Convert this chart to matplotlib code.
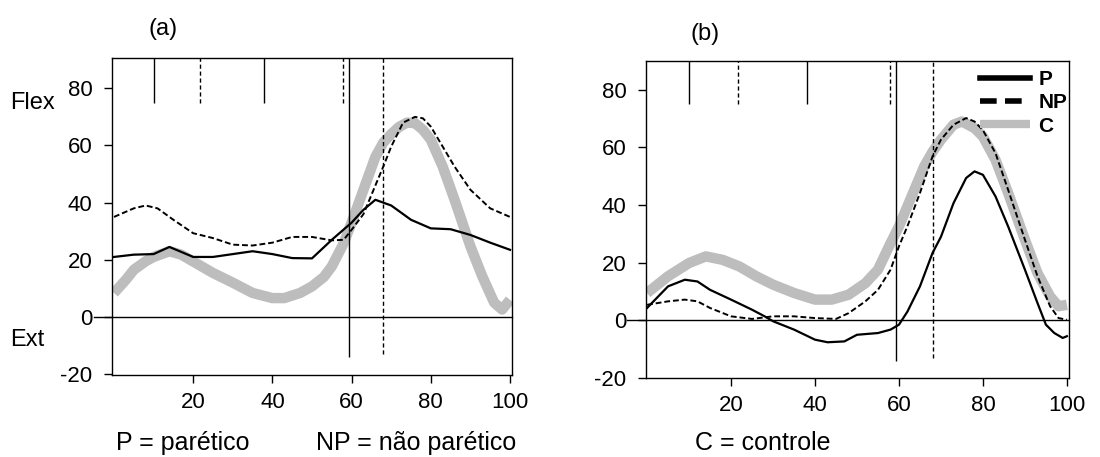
import numpy as np
import matplotlib
matplotlib.use("Agg")
import matplotlib.pyplot as plt

plt.rcParams['font.family'] = ['Liberation Sans Narrow', 'Liberation Sans', 'DejaVu Sans']
plt.rcParams['axes.unicode_minus'] = False

# ---- painel (a) ----
a_p_x = [0, 5, 10, 14, 20, 25, 30, 35, 40, 45, 50, 55, 60, 63, 66, 70, 75, 80, 85, 90, 95, 100]
a_p_y = [21, 21.8, 22, 24.5, 21, 21, 22, 23, 22, 20.6, 20.5, 27, 33, 37.5, 41, 39, 34, 31, 30.7, 28.7, 26, 23.5]

a_np_x = [0, 5, 8, 11, 15, 20, 25, 30, 35, 40, 45, 50, 55, 58, 60, 63, 66, 68, 70, 73, 76, 78, 80, 83, 86, 90, 95, 100]
a_np_y = [35, 38, 39, 38, 34, 29.3, 27.6, 25.3, 25, 26, 28, 28, 26.8, 27, 30.5, 36, 46, 52.6, 59.6, 68, 70, 69.5, 66.6, 59.6, 52.6, 44.5, 38, 35]

a_c_x = [0, 3, 5, 8, 10, 14, 17, 20, 25, 30, 35, 40, 43, 47, 50, 53, 55, 58, 60, 63, 66, 68, 70, 72, 74, 76, 78, 80, 83, 86, 90, 93, 96, 98, 100]
a_c_y = [8.4, 13, 16.5, 19.5, 21, 23, 21.8, 19.4, 15.4, 12, 8.4, 6.6, 6.6, 8.4, 10.7, 14, 17.7, 25.8, 33, 44.5, 56, 61, 64, 66.5, 68, 67.8, 65.5, 62, 52.6, 41, 24.7, 14.2, 5, 2.6, 6]

# ---- painel (b) ----
b_p_x = [0, 5, 9, 12, 15, 20, 25, 28, 30, 35, 40, 43, 47, 50, 55, 58, 60, 62, 65, 68, 70, 73, 76, 78, 80, 83, 86, 90, 93, 95, 97, 99, 100]
b_p_y = [4.3, 11.8, 14.1, 13.5, 10.6, 7.2, 3.7, 1.4, -0.3, -3.2, -6.7, -7.6, -7.3, -5, -4.4, -3.2, -1.5, 3, 11.8, 23.4, 29, 40.7, 49.4, 51.7, 50.5, 43, 32.6, 17.6, 6, -1.5, -4.4, -6.1, -5.5]

b_np_x = [0, 5, 9, 12, 15, 20, 25, 30, 35, 40, 45, 48, 52, 55, 58, 60, 62, 65, 68, 70, 73, 76, 78, 80, 83, 86, 90, 93, 96, 98, 100]
b_np_y = [5.4, 6.6, 7.2, 6.6, 4.3, 1.4, 0.5, 1.4, 1.4, 0.8, 0.5, 2.5, 6.6, 10.6, 17.6, 25.7, 32.6, 44.2, 56.9, 62.7, 67.9, 70.2, 69, 66, 58, 45.3, 28, 15.3, 4.9, 0.8, 0.2]

b_c_x = [0, 5, 10, 14, 18, 22, 26, 30, 35, 40, 44, 48, 52, 55, 58, 60, 63, 66, 68, 70, 73, 75, 78, 80, 83, 86, 90, 93, 96, 98, 100]
b_c_y = [9.5, 15.3, 19.9, 22.2, 21, 18.7, 15.3, 12.4, 9.5, 7.2, 7.2, 8.9, 12.9, 17.6, 26.8, 32.6, 43, 53.4, 58.5, 62.7, 67.9, 69, 66.7, 63.8, 55.7, 44.2, 28, 16.4, 8.3, 4.9, 5.4]

# eventos do ciclo (linhas verticais)
short_solid = [10, 38]
short_dashed = [21.6, 57.8]
long_solid = 59.3
long_dashed = 68

yticks = [-20, 0, 20, 40, 60, 80]
xticks = [20, 40, 60, 80, 100]

fig = plt.figure(figsize=(11, 4.57), dpi=100)
W, H = 1100, 457


def make_ax(l, r, t, b):
    return fig.add_axes([l / W, 1 - b / H, (r - l) / W, (b - t) / H])


def draw_panel(ax, px, py, npx, npy, cx, cy, ylim, xlim):
    ax.plot(cx, cy, color='#bdbdbd', lw=7.5, solid_capstyle='butt',
            solid_joinstyle='round', label='C', zorder=2)
    ax.plot(px, py, color='black', lw=1.6, label='P', zorder=3)
    ax.plot(npx, npy, color='black', lw=1.4, ls=(0, (3, 1.5)), label='NP', zorder=3)
    ax.axhline(0, color='black', lw=1, zorder=1, xmin=-0.045, clip_on=False)
    top = ylim[1]
    ax.vlines(short_solid, 75, top, color='black', lw=1)
    ax.vlines(short_dashed, 75, top, color='black', lw=1, linestyles=(0, (3, 2)))
    ax.vlines(long_solid, -14, top, color='black', lw=1)
    ax.vlines(long_dashed, -13, top, color='black', lw=1, linestyles=(0, (3, 2)))
    ax.set_xlim(xlim)
    ax.set_ylim(ylim)
    ax.set_xticks(xticks)
    ax.set_yticks(yticks)
    ax.tick_params(direction='out', length=6, width=1, labelsize=16)
    ax.tick_params(axis='x', pad=6)
    ax.tick_params(axis='y', pad=8)
    for s in ax.spines.values():
        s.set_linewidth(1)


ax1 = make_ax(112, 512, 58, 375)
draw_panel(ax1, a_p_x, a_p_y, a_np_x, a_np_y, a_c_x, a_c_y, (-20.3, 90.6), (-0.5, 100.5))

ax2 = make_ax(646, 1069, 61, 378)
draw_panel(ax2, b_p_x, b_p_y, b_np_x, b_np_y, b_c_x, b_c_y, (-19.7, 90.0), (-0.25, 100.5))

h, lab = ax2.get_legend_handles_labels()
order = [1, 2, 0]
leg = ax2.legend([h[i] for i in order], [lab[i] for i in order], loc='upper right',
                 bbox_to_anchor=(1.04, 1.03), frameon=False, handlelength=2.4,
                 labelspacing=0.2, handletextpad=0.4, prop={'size': 15, 'weight': 'bold'})
for hl, lw in zip(leg.legend_handles, [4, 4, 6]):
    hl.set_linewidth(lw)

fig.text(163 / W, 1 - 29 / H, '(a)', fontsize=17, ha='center', va='center')
fig.text(705 / W, 1 - 34 / H, '(b)', fontsize=17, ha='center', va='center')
fig.text(10 / W, 1 - 103 / H, 'Flex', fontsize=17, ha='left', va='center')
fig.text(10 / W, 1 - 340 / H, 'Ext', fontsize=17, ha='left', va='center')
fig.text(183 / W, 1 - 443 / H, 'P = parético', fontsize=18, ha='center', va='center')
fig.text(416 / W, 1 - 443 / H, 'NP = não parético', fontsize=18, ha='center', va='center')
fig.text(763 / W, 1 - 443 / H, 'C = controle', fontsize=18, ha='center', va='center')

fig.savefig('out.png', dpi=100)
